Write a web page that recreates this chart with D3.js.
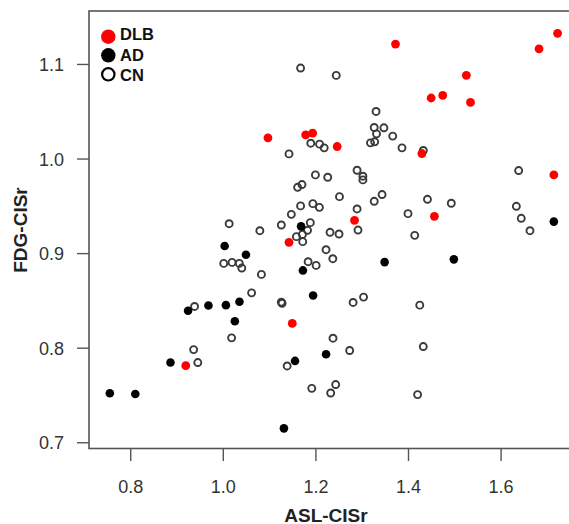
<!DOCTYPE html>
<html><head><meta charset="utf-8">
<script src="https://cdn.jsdelivr.net/npm/d3@7"></script>
<style>body{margin:0;background:#fff}svg{display:block}text{font-family:"Liberation Sans",Arial,sans-serif}</style>
</head><body><svg id="c" width="569" height="524"></svg>
<script>
const xTicks=[0.8,1.0,1.2,1.4,1.6];
const yTicks=[0.7,0.8,0.9,1.0,1.1];
const legendLabels=["DLB","AD","CN"];
const dlbX=[1.723,1.373,1.683,1.526,1.450,1.475,1.535,1.0975,1.179,1.194,1.247,1.430,1.715,1.2845,1.457,1.143,1.150,0.920];
const dlbY=[1.1324,1.121,1.116,1.088,1.064,1.0667,1.0593,1.0219,1.025,1.0268,1.0127,1.0053,0.9827,0.9347,0.9389,0.9114,0.8256,0.781];
const adX=[0.756,0.811,0.887,0.925,0.969,1.0067,1.004,1.050,1.036,1.026,1.169,1.173,1.195,1.156,1.223,1.132,1.3495,1.499,1.715];
const adY=[0.7518,0.751,0.7843,0.839,0.8446,0.845,0.9075,0.8983,0.8485,0.828,0.9283,0.8817,0.8552,0.786,0.793,0.7147,0.8905,0.8934,0.9333];
const cnX=[1.168,1.245,1.331,1.327,1.348,1.332,1.367,1.319,1.328,1.387,1.433,1.190,1.209,1.219,1.143,1.200,1.2266,1.290,1.3026,1.3026,1.639,1.1616,1.171,1.252,1.344,1.327,1.442,1.4935,1.168,1.1945,1.2086,1.148,1.290,1.400,1.634,1.6446,1.6634,1.0137,1.1264,1.080,1.189,1.183,1.159,1.172,1.1726,1.2316,1.251,1.292,1.4145,1.223,1.2376,1.1843,1.2016,1.002,1.020,1.0356,1.041,1.0834,1.0622,1.1264,1.128,0.939,1.2814,1.304,1.4254,1.019,0.937,0.946,1.238,1.274,1.433,1.139,1.1922,1.2438,1.233,1.4207];
const cnY=[1.0957,1.0879,1.0498,1.0328,1.0325,1.0261,1.0237,1.0166,1.0177,1.0113,1.0085,1.0162,1.0152,1.0113,1.0049,0.9827,0.9802,0.9876,0.9813,0.9774,0.9873,0.9696,0.9725,0.9597,0.9619,0.9548,0.9569,0.9527,0.9499,0.9523,0.9484,0.941,0.9467,0.9417,0.9495,0.9368,0.9237,0.9311,0.9297,0.9237,0.9322,0.9241,0.9174,0.9198,0.9121,0.922,0.9202,0.9244,0.9188,0.9036,0.8941,0.8909,0.887,0.8891,0.8902,0.8891,0.8842,0.8775,0.858,0.8482,0.847,0.8436,0.8478,0.8535,0.845,0.8104,0.798,0.7843,0.81,0.797,0.8012,0.7807,0.757,0.761,0.7521,0.7504];

const svg=d3.select("#c");
const x=d3.scaleLinear().domain([0.711,1.765]).range([89,577]);
const y=d3.scaleLinear().domain([0.6934,1.156]).range([448.5,11]);
const [x0,x1]=x.range(),[y0,y1]=y.range();

// box
svg.append("rect").attr("x",x0).attr("y",y1).attr("width",x1-x0).attr("height",y0-y1)
  .attr("fill","none").attr("stroke","#555").attr("stroke-width",1.6);

// x axis
const xa=svg.append("g").attr("transform",`translate(0,${y0})`)
  .call(d3.axisBottom(x).tickValues(xTicks).tickFormat(d3.format(".1f")).tickSize(12.5).tickPadding(0).tickSizeOuter(0));
xa.select(".domain").remove();
xa.selectAll(".tick line").attr("stroke","#555").attr("stroke-width",1.4);
xa.selectAll(".tick text").attr("font-size",18).attr("fill","#333").attr("font-family","Liberation Sans, Arial").attr("dy",null).attr("y",44);

const ya=svg.append("g").attr("transform",`translate(${x0},0)`)
  .call(d3.axisLeft(y).tickValues(yTicks).tickFormat(d3.format(".1f")).tickSize(12).tickPadding(13).tickSizeOuter(0));
ya.select(".domain").remove();
ya.selectAll(".tick line").attr("stroke","#555").attr("stroke-width",1.4);
ya.selectAll(".tick text").attr("font-size",18).attr("fill","#333").attr("font-family","Liberation Sans, Arial").attr("dy","0.36em");

// titles
svg.append("text").attr("x",326).attr("y",521.5).attr("text-anchor","middle").attr("font-weight","bold").attr("font-size",19).attr("fill","#222").text("ASL-CISr");
svg.append("text").attr("transform","translate(27,230) rotate(-90)").attr("text-anchor","middle").attr("font-weight","bold").attr("font-size",19).attr("fill","#222").text("FDG-CISr");

// points
const g=svg.append("g");
g.selectAll(".cn").data(d3.zip(cnX,cnY)).join("circle").attr("cx",d=>x(d[0])).attr("cy",d=>y(d[1])).attr("r",3.5)
  .attr("fill","none").attr("stroke","#3a3a3a").attr("stroke-width",1.9);
g.selectAll(".ad").data(d3.zip(adX,adY)).join("circle").attr("cx",d=>x(d[0])).attr("cy",d=>y(d[1])).attr("r",4.3).attr("fill","#000");
g.selectAll(".dlb").data(d3.zip(dlbX,dlbY)).join("circle").attr("cx",d=>x(d[0])).attr("cy",d=>y(d[1])).attr("r",4.4).attr("fill","#f00");

// legend
const lg=svg.append("g");
const lyC=[36.7,55.3,74.3], lyT=[40,61,81];
lg.append("circle").attr("cx",108.3).attr("cy",lyC[0]).attr("r",7.2).attr("fill","#f00");
lg.append("circle").attr("cx",108.3).attr("cy",lyC[1]).attr("r",7.2).attr("fill","#000");
lg.append("circle").attr("cx",108.3).attr("cy",lyC[2]).attr("r",6.2).attr("fill","none").attr("stroke","#000").attr("stroke-width",2.2);
legendLabels.forEach((t,i)=>lg.append("text").attr("x",120).attr("y",lyT[i]).attr("font-weight","bold").attr("font-size",16.5).attr("fill","#111").text(t));
</script></body></html>
